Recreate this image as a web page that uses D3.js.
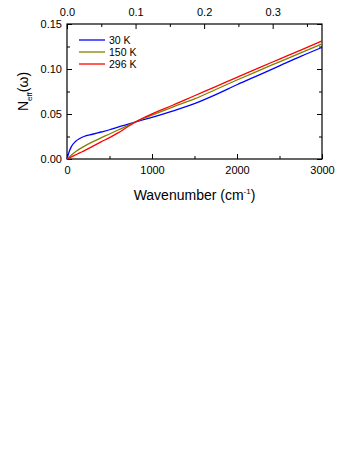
<!DOCTYPE html>
<html>
<head>
<meta charset="utf-8">
<script src="https://cdn.jsdelivr.net/npm/d3@7"></script>
<style>
  body { margin: 0; background: #fff; }
  text { font-family: "Liberation Sans", Arial, sans-serif; }
</style>
</head>
<body>
<svg id="chart" width="354" height="458"></svg>
<script>
// wavenumber grid (cm^-1)
const wavenumbers = [0, 25, 50, 100, 150, 200, 300, 400, 500, 600, 700, 800, 900, 1000, 1250, 1500, 1750, 2000, 2250, 2500, 2750, 3000];
// N_eff per temperature
const neff30 = [0, 0.0080, 0.0135, 0.0195, 0.0228, 0.0250, 0.0275, 0.0300, 0.0325, 0.0355, 0.0382, 0.0410, 0.0437, 0.0463, 0.0535, 0.0615, 0.0715, 0.0825, 0.0930, 0.1035, 0.1140, 0.1240];
const neff150 = [0, 0.0020, 0.0042, 0.0080, 0.0112, 0.0140, 0.0190, 0.0235, 0.0278, 0.0322, 0.0365, 0.0410, 0.0450, 0.0488, 0.0580, 0.0668, 0.0772, 0.0878, 0.0980, 0.1080, 0.1180, 0.1280];
const neff296 = [0, 0.0010, 0.0022, 0.0045, 0.0068, 0.0090, 0.0140, 0.0190, 0.0238, 0.0290, 0.0350, 0.0408, 0.0458, 0.0502, 0.0600, 0.0703, 0.0805, 0.0908, 0.1010, 0.1110, 0.1210, 0.1312];
const seriesNames = ['30 K', '150 K', '296 K'];
const seriesColors = ['#0000ff', '#808000', '#ff0000'];
const bottomTicks = [0, 1000, 2000, 3000];
const bottomMinor = [500, 1500, 2500];
const topTicks = [0.0, 0.1, 0.2, 0.3];
const topMinor = [0.05, 0.15, 0.25, 0.35];
const yTicks = [0, 0.05, 0.10, 0.15];
const yMinor = [0.025, 0.075, 0.125];

const svg = d3.select('#chart');
const margin = { left: 67, right: 32, top: 24, bottom: 299 };
const width = 354 - margin.left - margin.right;
const height = 458 - margin.top - margin.bottom;

const g = svg.append('g').attr('transform', `translate(${margin.left},${margin.top})`);

const x = d3.scaleLinear().domain([0, 3000]).range([0, width]);
const xTop = d3.scaleLinear().domain([0, 3000 / 8065.54]).range([0, width]);
const y = d3.scaleLinear().domain([0, 0.15]).range([height, 0]);

const tickSize = 5, minorSize = 3;

function styleAxis(sel) {
    sel.select('.domain').remove();
    sel.selectAll('line').attr('stroke', '#000').attr('stroke-width', 1);
    sel.selectAll('text').attr('font-size', 11).attr('fill', '#000');
}

// bottom
g.append('g').attr('transform', `translate(0,${height})`)
    .call(d3.axisBottom(x).tickValues(bottomTicks).tickSizeInner(-tickSize).tickSizeOuter(0).tickPadding(7).tickFormat(d3.format('d')))
    .call(styleAxis);
g.append('g').attr('transform', `translate(0,${height})`)
    .call(d3.axisBottom(x).tickValues(bottomMinor).tickSizeInner(-minorSize).tickSizeOuter(0).tickFormat(''))
    .call(styleAxis);
// top
g.append('g')
    .call(d3.axisTop(xTop).tickValues(topTicks).tickSizeInner(-tickSize).tickSizeOuter(0).tickPadding(8).tickFormat(d3.format('.1f')))
    .call(styleAxis);
g.append('g')
    .call(d3.axisTop(xTop).tickValues(topMinor).tickSizeInner(-minorSize).tickSizeOuter(0).tickFormat(''))
    .call(styleAxis);
// left
g.append('g')
    .call(d3.axisLeft(y).tickValues(yTicks).tickSizeInner(-tickSize).tickSizeOuter(0).tickPadding(5).tickFormat(d3.format('.2f')))
    .call(styleAxis);
g.append('g')
    .call(d3.axisLeft(y).tickValues(yMinor).tickSizeInner(-minorSize).tickSizeOuter(0).tickFormat(''))
    .call(styleAxis);
// right
g.append('g').attr('transform', `translate(${width},0)`)
    .call(d3.axisRight(y).tickValues(yTicks).tickSizeInner(-tickSize).tickSizeOuter(0).tickFormat(''))
    .call(styleAxis);
g.append('g').attr('transform', `translate(${width},0)`)
    .call(d3.axisRight(y).tickValues(yMinor).tickSizeInner(-minorSize).tickSizeOuter(0).tickFormat(''))
    .call(styleAxis);

// frame
g.append('rect').attr('width', width).attr('height', height)
    .attr('fill', 'none').attr('stroke', '#000').attr('stroke-width', 1.2);

// curves
const line = d3.line()
    .x(function (d) { return x(d[0]); })
    .y(function (d) { return y(d[1]); })
    .curve(d3.curveMonotoneX);

const series = [neff30, neff150, neff296];
series.forEach(function (vals, i) {
    g.append('path')
        .datum(wavenumbers.map(function (w, j) { return [w, vals[j]]; }))
        .attr('fill', 'none')
        .attr('stroke', seriesColors[i])
        .attr('stroke-width', 1.3)
        .attr('d', line);
});

// legend
const legend = g.append('g').attr('transform', 'translate(12,16)');
seriesNames.forEach(function (name, i) {
    legend.append('line')
        .attr('x1', 0).attr('x2', 26)
        .attr('y1', i * 12).attr('y2', i * 12)
        .attr('stroke', seriesColors[i]).attr('stroke-width', 1.3);
    legend.append('text')
        .attr('x', 30).attr('y', i * 12 + 3.5)
        .attr('font-size', 10.5).text(name);
});

// axis titles
const xTitle = svg.append('text')
    .attr('x', margin.left + width / 2).attr('y', 200)
    .attr('text-anchor', 'middle').attr('font-size', 14);
xTitle.append('tspan').text('Wavenumber (cm');
xTitle.append('tspan').attr('font-size', 8).attr('dy', -6).text('-1');
xTitle.append('tspan').attr('dy', 6).text(')');

const yTitle = svg.append('text')
    .attr('transform', `translate(28,${margin.top + height / 2}) rotate(-90)`)
    .attr('text-anchor', 'middle').attr('font-size', 14);
yTitle.append('tspan').text('N');
yTitle.append('tspan').attr('font-size', 8).attr('dy', 4).text('eff');
yTitle.append('tspan').attr('dy', -4).text('(ω)');
</script>
</body>
</html>
